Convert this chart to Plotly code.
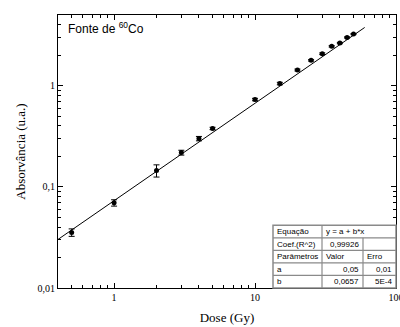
import plotly.graph_objects as go

# Data
dose = [0.5, 1, 2, 3, 4, 5, 10, 15, 20, 25, 30, 35, 40, 45, 50]
absorb = [0.0354, 0.0695, 0.145, 0.218, 0.30, 0.378, 0.73, 1.05, 1.43, 1.78, 2.07, 2.45, 2.64, 3.0, 3.24]
err = [0.003, 0.005, 0.02, 0.012, 0.015, 0.01, 0.02, 0.03, 0.03, 0.03, 0.04, 0.04, 0.04, 0.04, 0.04]

# Fit line (power law as displayed in log-log)
fit_x = [0.4, 60]
fit_A = 0.073
fit_k = 0.963
fit_y = [fit_A * x ** fit_k for x in fit_x]

x_tickvals = [1, 10, 100]
x_ticktext = ["1", "10", "100"]
y_tickvals = [0.01, 0.1, 1]
y_ticktext = ["0,01", "0,1", "1"]

table_rows = [
    ["Equação", "y = a + b*x", ""],
    ["Coef.(R^2)", "0,99926", ""],
    ["Parâmetros", "Valor", "Erro"],
    ["a", "0,05", "0,01"],
    ["b", "0,0657", "5E-4"],
]

fig = go.Figure()
fig.add_trace(go.Scatter(x=fit_x, y=fit_y, mode="lines",
                         line=dict(color="black", width=1), showlegend=False))
fig.add_trace(go.Scatter(x=dose, y=absorb, mode="markers",
                         marker=dict(color="black", size=5, symbol="circle"),
                         error_y=dict(type="data", array=err, color="black", thickness=1, width=3),
                         showlegend=False))

L, R, T, B = 58, 4, 15, 39
W, H = 400, 327
pw = W - L - R
ph = H - T - B

def fx(px):
    return (px - L) / pw

def fy(py):
    return (H - B - py) / ph

# Table geometry (pixels)
row_edges = [225.3, 237.8, 250.3, 262.8, 275.3, 288]
col_edges = [273, 322, 363, W - R]

shapes = []
line_col = "#8a8a8a"
shapes.append(dict(type="rect", xref="paper", yref="paper",
                   x0=fx(col_edges[0]), x1=fx(col_edges[-1]),
                   y0=fy(row_edges[-1]), y1=fy(row_edges[0]),
                   line=dict(color=line_col, width=1.5), fillcolor="white", layer="above"))
for ry in row_edges[1:-1]:
    shapes.append(dict(type="line", xref="paper", yref="paper",
                       x0=fx(col_edges[0]), x1=fx(col_edges[-1]), y0=fy(ry), y1=fy(ry),
                       line=dict(color=line_col, width=1.2), layer="above"))
# column dividers
shapes.append(dict(type="line", xref="paper", yref="paper",
                   x0=fx(col_edges[1]), x1=fx(col_edges[1]), y0=fy(row_edges[-1]), y1=fy(row_edges[0]),
                   line=dict(color=line_col, width=1.2), layer="above"))
shapes.append(dict(type="line", xref="paper", yref="paper",
                   x0=fx(col_edges[2]), x1=fx(col_edges[2]), y0=fy(row_edges[-1]), y1=fy(row_edges[1]),
                   line=dict(color=line_col, width=1.2), layer="above"))

annotations = []
tfont = dict(family="Liberation Sans, Arial", size=8, color="black")
for i, row in enumerate(table_rows):
    yc = fy((row_edges[i] + row_edges[i + 1]) / 2)
    for j, txt in enumerate(row):
        if not txt:
            continue
        numeric = i in (1, 3, 4) and j > 0
        if numeric:
            annotations.append(dict(xref="paper", yref="paper", x=fx(col_edges[j + 1] - 2), y=yc,
                                    text=txt, showarrow=False, xanchor="right", yanchor="middle", font=tfont))
        else:
            annotations.append(dict(xref="paper", yref="paper", x=fx(col_edges[j] + 1.5), y=yc,
                                    text=txt, showarrow=False, xanchor="left", yanchor="middle", font=tfont))

annotations.append(dict(xref="paper", yref="paper", x=fx(66), y=fy(28),
                        text="Fonte de <sup>60</sup>Co", showarrow=False,
                        xanchor="left", yanchor="middle",
                        font=dict(family="Liberation Sans, Arial", size=12, color="black")))

fig.update_layout(
    width=W, height=H,
    margin=dict(l=L, r=R, t=T, b=B),
    paper_bgcolor="white", plot_bgcolor="white",
    font=dict(family="Liberation Serif, Times New Roman", size=10, color="black"),
    shapes=shapes, annotations=annotations,
)
fig.update_xaxes(type="log", range=[-0.398, 2.0004], automargin=False,
                 tickmode="array", tickvals=x_tickvals, ticktext=x_ticktext,
                 ticklabeloverflow="allow",
                 ticks="inside", ticklen=5, tickcolor="black",
                 showline=True, linecolor="black", linewidth=1, mirror="allticks",
                 showgrid=False, zeroline=False,
                 minor=dict(ticks="inside", ticklen=3, tickcolor="black", showgrid=False,
                            tickmode="array",
                            tickvals=[0.4, 0.5, 0.6, 0.7, 0.8, 0.9, 2, 3, 4, 5, 6, 7, 8, 9,
                                      20, 30, 40, 50, 60, 70, 80, 90]),
                 title=dict(text="Dose (Gy)", font=dict(size=13), standoff=10))
fig.update_yaxes(type="log", range=[-2, 0.699], automargin=False,
                 tickmode="array", tickvals=y_tickvals, ticktext=y_ticktext,
                 ticks="inside", ticklen=5, tickcolor="black",
                 showline=True, linecolor="black", linewidth=1, mirror="allticks",
                 showgrid=False, zeroline=False,
                 minor=dict(ticks="inside", ticklen=3, tickcolor="black", showgrid=False,
                            tickmode="array",
                            tickvals=[0.02, 0.03, 0.04, 0.05, 0.06, 0.07, 0.08, 0.09,
                                      0.2, 0.3, 0.4, 0.5, 0.6, 0.7, 0.8, 0.9,
                                      2, 3, 4, 5]),
                 title=dict(text="Absorvância (u.a.)", font=dict(size=13), standoff=8))

fig.write_html("out.html", config={"displayModeBar": False},
               post_script="document.body.style.margin='0';")
